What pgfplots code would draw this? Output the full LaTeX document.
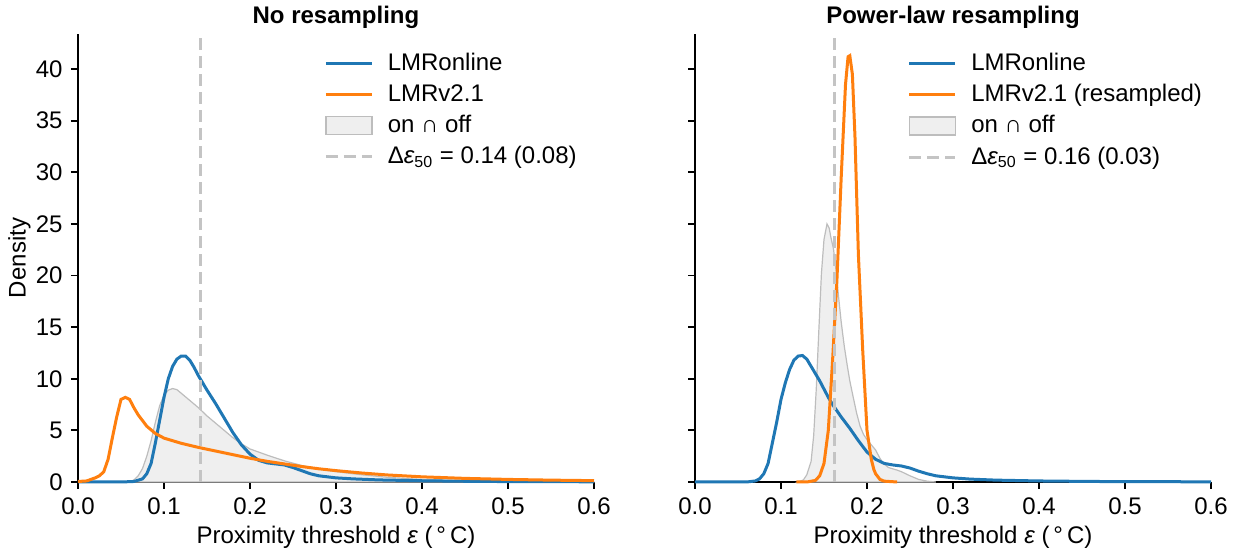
\documentclass[border=0pt]{standalone}
\usepackage{pgfplots}
\pgfplotsset{compat=1.18}
\usepackage{fontspec}
\setmainfont{Liberation Sans}
\definecolor{tblue}{HTML}{1F77B4}
\definecolor{torange}{HTML}{FF7F0E}
\definecolor{gfill}{HTML}{EFEFEF}
\definecolor{gedge}{HTML}{BDBDBD}
\definecolor{gdash}{HTML}{C4C4C4}

\pgfplotstableread{
x y
0 0
0.05 0.0
0.065 0.05
0.075 0.3
0.08 0.8
0.085 1.8
0.09 3.8
0.095 6.0
0.1 8.2
0.105 10.0
0.11 11.2
0.115 11.9
0.12 12.2
0.125 12.2
0.13 11.8
0.135 11.1
0.14 10.3
0.145 9.6
0.15 8.9
0.16 7.6
0.17 6.2
0.18 4.8
0.19 3.6
0.2 2.7
0.21 2.1
0.22 1.85
0.23 1.75
0.24 1.65
0.25 1.4
0.26 1.1
0.27 0.8
0.28 0.6
0.3 0.4
0.32 0.3
0.35 0.2
0.4 0.12
0.45 0.07
0.5 0.04
0.6 0.02
}\leftblue

\pgfplotstableread{
x y
0 0.05
0.01 0.1
0.02 0.4
0.025 0.6
0.03 1.0
0.035 2.2
0.04 4.3
0.045 6.3
0.05 8.0
0.055 8.2
0.06 8.0
0.065 7.2
0.07 6.5
0.08 5.4
0.09 4.7
0.1 4.25
0.12 3.75
0.14 3.35
0.16 3.0
0.18 2.65
0.2 2.3
0.22 2.0
0.24 1.75
0.26 1.5
0.28 1.28
0.3 1.1
0.33 0.87
0.36 0.68
0.4 0.5
0.45 0.35
0.5 0.25
0.55 0.18
0.6 0.13
}\leftorange

\pgfplotstableread{
x y
0.06 0
0.065 0.2
0.07 0.6
0.075 1.3
0.08 2.5
0.085 4.0
0.09 5.8
0.095 7.4
0.1 8.4
0.105 8.9
0.11 9.05
0.115 8.95
0.12 8.6
0.13 7.9
0.14 7.2
0.15 6.4
0.16 5.7
0.17 5.0
0.18 4.3
0.19 3.7
0.2 3.2
0.22 2.6
0.24 2.05
0.26 1.6
0.28 1.25
0.3 1.0
0.33 0.7
0.36 0.45
0.4 0.25
0.45 0.12
0.5 0.05
0.55 0.02
0.6 0.01
}\leftgray

\pgfplotstableread{
x y
0 0
0.06 0.0
0.07 0.1
0.075 0.3
0.08 0.8
0.085 1.8
0.09 3.8
0.095 5.8
0.1 8.0
0.105 9.6
0.11 10.9
0.115 11.8
0.12 12.2
0.125 12.25
0.13 11.9
0.135 11.2
0.14 10.5
0.145 9.8
0.15 9.0
0.155 8.2
0.16 7.5
0.17 6.3
0.18 5.2
0.19 4.0
0.2 2.9
0.21 2.2
0.22 1.8
0.23 1.65
0.24 1.55
0.25 1.35
0.26 1.05
0.27 0.8
0.28 0.6
0.3 0.4
0.32 0.28
0.35 0.18
0.4 0.1
0.45 0.06
0.5 0.03
0.6 0.02
}\rightblue

\pgfplotstableread{
x y
0.118 0
0.13 0.0
0.14 0.15
0.145 0.6
0.15 1.8
0.155 5.0
0.16 11.8
0.165 19.5
0.17 29.5
0.175 38.5
0.178 41.2
0.18 41.3
0.183 39.5
0.186 33.5
0.19 22.0
0.195 12.8
0.2 5.0
0.205 2.2
0.208 1.2
0.21 0.8
0.215 0.25
0.22 0.08
0.235 0
}\rightorange

\pgfplotstableread{
x y
0.12 0
0.126 0.2
0.13 0.7
0.135 2.0
0.138 4.5
0.141 9
0.144 14.7
0.147 20.2
0.15 23.5
0.1535 25.0
0.156 24.6
0.158 23.7
0.161 22.6
0.164 20.5
0.167 17.9
0.17 15.5
0.1735 13.2
0.177 11.3
0.18 9.8
0.184 8.2
0.188 6.65
0.192 5.4
0.196 4.6
0.2 4.1
0.204 3.7
0.21 3.1
0.215 2.3
0.219 1.8
0.225 1.4
0.235 1.15
0.24 1.0
0.25 0.6
0.26 0.25
0.27 0.08
0.28 0
}\rightgray

\pgfplotsset{
  panel/.style={
    scale only axis,
    width=258pt, height=224pt,
    xmin=0, xmax=0.6, ymin=0, ymax=43.4,
    axis x line*=bottom, axis y line*=left,
    axis line style={line width=0.9pt, -},
    tick align=outside,
    major tick length=3.5pt,
    every tick/.style={line width=0.9pt, black},
    xtick={0,0.1,0.2,0.3,0.4,0.5,0.6},
    ytick={0,5,10,15,20,25,30,35,40},
    xticklabel style={/pgf/number format/fixed, /pgf/number format/fixed zerofill, /pgf/number format/precision=1},
    /pgf/number format/assume math mode=true,
    xlabel={Proximity threshold {\itshape ε} (\,°\,C)},
    xlabel shift=-2.5pt,
    ylabel shift=-5.5pt,
    title style={font=\bfseries, at={(0.5,1)}, anchor=base, yshift=-1pt},
    legend cell align=left,
    legend style={draw=none, fill=none, anchor=north west, row sep=1.1pt},
    clip=false,
  },
  lineleg/.style={legend image code/.code={\path[draw=none,fill=none] (0pt,0pt) -- (29pt,0pt);\draw[##1] (0pt,0pt) -- (23pt,0pt);}},
  arealeg/.style={legend image code/.code={\path[draw=none,fill=none] (0pt,0pt) -- (29pt,0pt);\draw[##1] (0pt,-4.5pt) rectangle (23pt,4.5pt);}},
}

\begin{document}
\fontsize{12}{14.4}\selectfont
\begin{tikzpicture}
\path[use as bounding box] (-39pt,-34pt) rectangle (580pt,241pt);
\begin{axis}[panel, at={(0pt,0pt)}, anchor=south west,
  title={No resampling}, ylabel={Density},
  legend style={at={(0.465,0.976)}}]
\addplot[fill=gfill, draw=gedge, line width=0.6pt, forget plot] table[x=x,y=y] {\leftgray} \closedcycle;
\addplot[tblue, line width=1.5pt, forget plot] table[x=x,y=y] {\leftblue};
\addplot[torange, line width=1.5pt, forget plot] table[x=x,y=y] {\leftorange};
\addplot[gdash, line width=1.5pt, dash pattern=on 6pt off 3pt, forget plot] coordinates {(0.143,0) (0.143,43.4)};
\addlegendimage{lineleg, tblue, line width=1.5pt}
\addlegendentry{LMRonline}
\addlegendimage{lineleg, torange, line width=1.5pt}
\addlegendentry{LMRv2.1}
\addlegendimage{arealeg, fill=gfill, draw=gedge, line width=0.8pt}
\addlegendentry{on ∩ off}
\addlegendimage{lineleg, gdash, line width=1.5pt, dash pattern=on 6pt off 3pt}
\addlegendentry{Δ{\itshape ε}\textsubscript{50} = 0.14 (0.08)}
\end{axis}
\begin{axis}[panel, at={(308.5pt,0pt)}, anchor=south west,
  title={Power-law resampling}, yticklabels={},
  legend style={at={(0.4,0.976)}}]
\addplot[fill=gfill, draw=gedge, line width=0.6pt, forget plot] table[x=x,y=y] {\rightgray} \closedcycle;
\addplot[tblue, line width=1.5pt, forget plot] table[x=x,y=y] {\rightblue};
\addplot[torange, line width=1.5pt, forget plot] table[x=x,y=y] {\rightorange};
\addplot[gdash, line width=1.5pt, dash pattern=on 6pt off 3pt, forget plot] coordinates {(0.1625,0) (0.1625,43.4)};
\addlegendimage{lineleg, tblue, line width=1.5pt}
\addlegendentry{LMRonline}
\addlegendimage{lineleg, torange, line width=1.5pt}
\addlegendentry{LMRv2.1 (resampled)}
\addlegendimage{arealeg, fill=gfill, draw=gedge, line width=0.8pt}
\addlegendentry{on ∩ off}
\addlegendimage{lineleg, gdash, line width=1.5pt, dash pattern=on 6pt off 3pt}
\addlegendentry{Δ{\itshape ε}\textsubscript{50} = 0.16 (0.03)}
\end{axis}
\end{tikzpicture}
\end{document}
